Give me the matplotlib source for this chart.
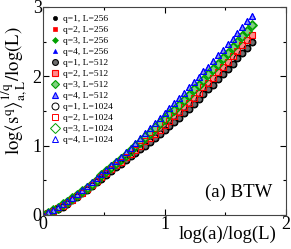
import numpy as np
import matplotlib
matplotlib.use("Agg")
from matplotlib import pyplot as plt

plt.rcParams['font.family'] = ['Liberation Serif', 'DejaVu Serif']
plt.rcParams['mathtext.fontset'] = 'stix'

# x = log(a)/log(L)
x = [0.00, 0.04, 0.08, 0.12, 0.16, 0.20, 0.24, 0.28, 0.32, 0.36, 0.40,
     0.44, 0.48, 0.52, 0.56, 0.60, 0.64, 0.68, 0.72, 0.76, 0.80, 0.84,
     0.88, 0.92, 0.96, 1.00, 1.04, 1.08, 1.12, 1.16, 1.20, 1.24, 1.28,
     1.32, 1.36, 1.40, 1.44, 1.48, 1.52, 1.56, 1.60, 1.64, 1.68, 1.72]

# log<s^q>^(1/q)/log(L) for q = 1..4 (curves nearly collapse for all L)
y_q1 = [0.00, 0.03, 0.06, 0.09, 0.12, 0.16, 0.21, 0.26, 0.31, 0.36, 0.41,
        0.47, 0.52, 0.58, 0.63, 0.69, 0.74, 0.79, 0.85, 0.90, 0.95, 1.00,
        1.05, 1.11, 1.16, 1.22, 1.28, 1.34, 1.40, 1.47, 1.53, 1.60, 1.67,
        1.74, 1.81, 1.88, 1.96, 2.03, 2.11, 2.18, 2.26, 2.34, 2.41, 2.49]
y_q2 = [0.00, 0.03, 0.06, 0.10, 0.13, 0.17, 0.22, 0.27, 0.32, 0.38, 0.43,
        0.49, 0.54, 0.60, 0.66, 0.72, 0.77, 0.83, 0.88, 0.94, 1.00, 1.06,
        1.11, 1.17, 1.23, 1.30, 1.36, 1.42, 1.49, 1.56, 1.62, 1.69, 1.76,
        1.84, 1.91, 1.98, 2.06, 2.14, 2.21, 2.29, 2.37, 2.45, 2.53, 2.60]
y_q3 = [0.00, 0.03, 0.07, 0.10, 0.15, 0.19, 0.24, 0.29, 0.34, 0.39, 0.45,
        0.51, 0.57, 0.63, 0.69, 0.75, 0.81, 0.87, 0.93, 0.99, 1.05, 1.12,
        1.18, 1.25, 1.32, 1.38, 1.45, 1.52, 1.59, 1.66, 1.73, 1.81, 1.88,
        1.95, 2.03, 2.10, 2.18, 2.26, 2.34, 2.42, 2.49, 2.58, 2.66, 2.74]
y_q4 = [0.00, 0.04, 0.07, 0.11, 0.16, 0.20, 0.25, 0.30, 0.36, 0.41, 0.47,
        0.53, 0.59, 0.65, 0.72, 0.78, 0.84, 0.91, 0.97, 1.04, 1.11, 1.18,
        1.25, 1.33, 1.40, 1.47, 1.54, 1.61, 1.69, 1.76, 1.84, 1.92, 1.99,
        2.07, 2.14, 2.22, 2.30, 2.38, 2.46, 2.54, 2.62, 2.71, 2.80, 2.87]

qs = [1, 2, 3, 4]
Ls = [256, 512, 1024]
ys = [y_q1, y_q2, y_q3, y_q4]

colors = ['black', 'red', '#00a000', 'blue']
fills = ['#6e6e6e', '#ff8c8c', '#7fd07f', '#8c8cff']
markers = ['o', 's', 'D', '^']

fig = plt.figure(figsize=(2.91, 2.49), dpi=100)
ax = fig.add_axes([0.148, 0.137, 0.835, 0.835])

for L in Ls:
    for i, q in enumerate(qs):
        lab = "q=%d, L=%d" % (q, L)
        if L == 256:
            ax.plot(x, ys[i], ls='none', marker=markers[i], ms=3.0,
                    color=colors[i], mec=colors[i], mew=0.5, label=lab)
        elif L == 512:
            ax.plot(x, ys[i], ls='none', marker=markers[i], ms=4.2,
                    mfc=fills[i], mec=colors[i], mew=0.8, label=lab)
        else:
            ax.plot(x, ys[i], ls='none', marker=markers[i], ms=5.0,
                    mfc='none', mec=colors[i], mew=0.7, label=lab)

ax.set_xlim(0, 2)
ax.set_ylim(0, 3)
ax.set_xticks([0, 1, 2])
ax.set_yticks([0, 1, 2, 3])
ax.set_xticks([0.5, 1.5], minor=True)
ax.set_yticks([0.5, 1.5, 2.5], minor=True)
ax.tick_params(which='both', direction='in', top=True, right=True,
               labelsize=13, pad=1)
ax.tick_params(which='major', length=4, width=0.8)
ax.tick_params(which='minor', length=2.5, width=0.8)
for s in ax.spines.values():
    s.set_color('#444444')

ax.set_xlabel("log(a)/log(L)", fontsize=13.5)
ax.xaxis.set_label_coords(0.76, -0.05)
ax.set_ylabel(r'$\mathrm{log}\langle \mathrm{s}^{\mathrm{q}}\rangle^{\mathrm{1/q}}_{\mathrm{a,L}}\mathrm{/log(L)}$',
              fontsize=13.5)
ax.yaxis.set_label_coords(-0.058, 0.595)

ax.text(0.942, 0.109, "(a) BTW", transform=ax.transAxes, ha='right',
        va='center', fontsize=13.5)

ax.legend(loc='upper left', bbox_to_anchor=(0.0, 1.0), frameon=False,
          fontsize=6.8, labelspacing=0.25, handlelength=1.0,
          handletextpad=0.3, borderpad=0.5, borderaxespad=0.3)

fig.savefig("out.png", dpi=100)
